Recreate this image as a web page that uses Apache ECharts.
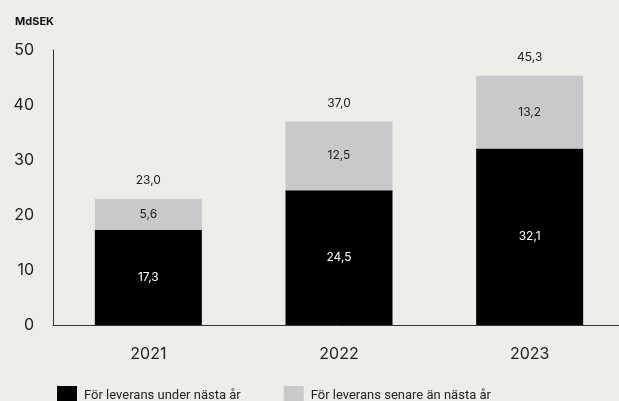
<!DOCTYPE html>
<html><head><meta charset="utf-8">
<script src="https://cdn.jsdelivr.net/npm/echarts@6/dist/echarts.min.js"></script>
<style>html,body{margin:0;padding:0;background:#eeede9;}#c{width:619px;height:401px;}</style>
</head><body><div id="c"></div>
<script>
var categories = ['2021', '2022', '2023'];
var nextYear = [17.3, 24.5, 32.1];
var laterYears = [5.6, 12.5, 13.2];
var totals = [23.0, 37.0, 45.3];
var seriesNames = ['För leverans under nästa år', 'För leverans senare än nästa år'];
var unit = 'MdSEK';

var FONT = 'Inter';
function fmt(v) { return v.toFixed(1).replace('.', ','); }
var chart = echarts.init(document.getElementById('c'));
chart.setOption({
  backgroundColor: '#eeede9',
  animation: false,
  textStyle: { fontFamily: FONT },
  title: { text: unit, left: 10, top: 11, textStyle: { fontFamily: FONT, fontSize: 11, fontWeight: 'bold', color: '#111' } },
  legend: {
    data: seriesNames, left: 52, top: 381, itemWidth: 20, itemHeight: 20, itemGap: 43,
    icon: 'rect', textStyle: { fontFamily: 'Roboto', fontSize: 13, color: '#222', padding: [0, 0, 0, 2] }
  },
  grid: { left: 53, width: 572, top: 50, bottom: 76, outerBoundsMode: 'none', containLabel: false },
  xAxis: {
    type: 'category', data: categories,
    axisLine: { lineStyle: { color: '#333', width: 1 } }, axisTick: { show: false },
    axisLabel: { fontFamily: FONT, fontSize: 16, color: '#222', margin: 21 }
  },
  yAxis: {
    type: 'value', min: 0, max: 50, interval: 10,
    axisLine: { show: true, lineStyle: { color: '#333', width: 1 } }, axisTick: { show: false },
    splitLine: { show: false },
    axisLabel: { fontFamily: FONT, fontSize: 16, color: '#222', margin: 19 }
  },
  series: [
    { name: seriesNames[0], type: 'bar', stack: 't', data: nextYear, barWidth: 107,
      itemStyle: { color: '#000' },
      label: { show: true, position: 'inside', color: '#fff', fontFamily: FONT, fontSize: 12, formatter: function(p){return fmt(p.value);} } },
    { name: seriesNames[1], type: 'bar', stack: 't', data: laterYears, barWidth: 107,
      itemStyle: { color: '#c8c9ca' },
      label: { show: true, position: 'inside', color: '#222', fontFamily: FONT, fontSize: 12, formatter: function(p){return fmt(p.value);} } },
    { name: 'total', type: 'bar', data: totals, barWidth: 107, barGap: '-100%', z: 0,
      itemStyle: { color: 'rgba(0,0,0,0)' }, silent: true,
      label: { show: true, position: 'top', distance: 12, color: '#222', fontFamily: FONT, fontSize: 12, formatter: function(p){return fmt(p.value);} } }
  ]
});
</script></body></html>
